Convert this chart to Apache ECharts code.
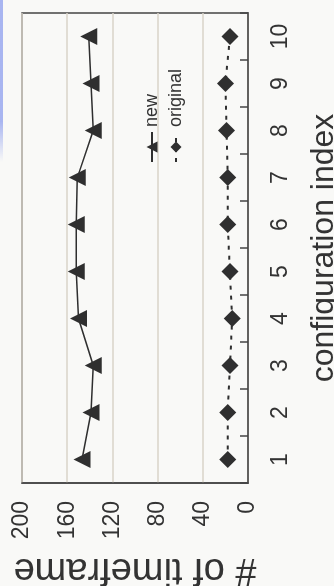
<!DOCTYPE html>
<html><head><meta charset="utf-8">
<script src="https://cdn.jsdelivr.net/npm/echarts@6/dist/echarts.min.js"></script>
<style>
html,body{margin:0;padding:0;background:#f9f9f7;width:334px;height:586px;overflow:hidden;}
#c{position:absolute;left:0;top:0;width:586px;height:334px;transform-origin:0 0;transform:translateY(586px) rotate(-90deg);}
</style></head><body>
<div id="c"></div>
<script>
const categories = ['1','2','3','4','5','6','7','8','9','10'];
const newValues = [147, 139, 137, 150, 152, 152, 151, 137, 139, 141];
const originalValues = [18, 18, 16, 14, 16, 18, 18, 19, 20, 16];
const seriesNames = ['new', 'original'];
const xAxisTitle = 'configuration index';
const yAxisTitle = '# of timeframe';

const ink = '#333333';
const font = 'Liberation Sans, Arial, sans-serif';
const chart = echarts.init(document.getElementById('c'), null, {renderer:'canvas'});
chart.setOption({
  backgroundColor: '#f9f9f7',
  animation: false,
  graphic: [{
    type:'rect', left:424, top:0, shape:{width:162, height:3},
    style:{fill:new echarts.graphic.LinearGradient(0,0,1,0,[{offset:0,color:'rgba(160,174,240,0)'},{offset:0.25,color:'rgba(160,174,240,0.9)'},{offset:1,color:'rgba(160,174,240,0.9)'}])},
    silent:true
  }],
  grid: {left:103, right:13, top:22, bottom:86, show:true, borderColor:'#444', borderWidth:1.5, backgroundColor:'transparent', containLabel:false, outerBoundsMode:'none'},
  legend: {
    orient:'vertical', left:418, top:138, itemWidth:30, itemHeight:14, itemGap:6,
    textStyle:{fontFamily:font, fontSize:18, color:ink},
    data: seriesNames
  },
  xAxis: {
    type:'category', data:categories, boundaryGap:true,
    name:xAxisTitle, nameLocation:'middle', nameGap:60,
    nameTextStyle:{fontFamily:font, fontSize:32, color:ink},
    axisLine:{show:true, lineStyle:{color:'#444', width:1.5}},
    axisTick:{show:true, inside:true, length:8, lineStyle:{color:'#444', width:1.5}},
    axisLabel:{fontFamily:font, fontSize:23, color:ink, margin:21},
    splitLine:{show:false}
  },
  yAxis: {
    type:'value', min:0, max:200, interval:40,
    name:yAxisTitle, nameLocation:'middle', nameGap:60, nameRotate:90,
    nameTextStyle:{fontFamily:font, fontSize:38, color:ink},
    axisLine:{show:true, lineStyle:{color:'#444', width:1.5}},
    axisTick:{show:false},
    axisLabel:{fontFamily:font, fontSize:23, color:ink, margin:18},
    splitLine:{show:true, lineStyle:{color:'#d8d3c9', width:1.5}}
  },
  series: [
    {name:seriesNames[0], type:'line', data:newValues, symbol:'triangle', symbolSize:17,
     itemStyle:{color:'#2f2f2f'}, lineStyle:{color:'#2f2f2f', width:1.5}},
    {name:seriesNames[1], type:'line', data:originalValues, symbol:'diamond', symbolSize:17,
     itemStyle:{color:'#2f2f2f'}, lineStyle:{color:'#2f2f2f', width:2, type:[4,6]}}
  ]
});
</script>
</body></html>
